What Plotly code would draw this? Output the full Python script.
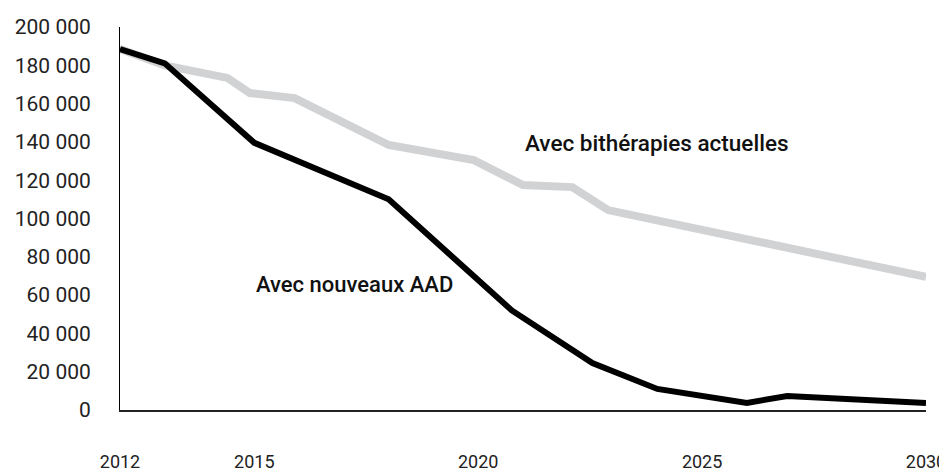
import plotly.graph_objects as go

# Data
years_aad = [2012, 2013, 2015, 2018, 2020.75, 2022.55, 2024, 2026, 2026.9, 2030]
patients_aad = [188500, 181000, 139500, 110000, 52000, 24500, 11000, 3700, 7300, 3700]

years_bi = [2012, 2013, 2014.4, 2014.9, 2015.9, 2018, 2019.9, 2021, 2022.1, 2022.9, 2030]
patients_bi = [188500, 180000, 173400, 165500, 162900, 138400, 130500, 117500, 116400, 104400, 69500]

x_ticks = [2012, 2015, 2020, 2025, 2030]
y_ticks = [0, 20000, 40000, 60000, 80000, 100000, 120000, 140000, 160000, 180000, 200000]
y_tick_labels = ["0", "20 000", "40 000", "60 000", "80 000", "100 000", "120 000",
                 "140 000", "160 000", "180 000", "200 000"]

label_bi = "Avec bithérapies actuelles"
label_aad = "Avec nouveaux AAD"

FONT = "Roboto, 'DejaVu Sans', sans-serif"

fig = go.Figure()
fig.add_trace(go.Scatter(x=years_bi, y=patients_bi, mode="lines",
                         line=dict(color="#d1d2d4", width=8), name=label_bi,
                         hoverinfo="skip"))
fig.add_trace(go.Scatter(x=years_aad, y=patients_aad, mode="lines",
                         line=dict(color="#000000", width=6), name=label_aad,
                         hoverinfo="skip"))

fig.add_annotation(x=2021.0, y=139500, text=label_bi, showarrow=False,
                   xanchor="left", yanchor="middle",
                   font=dict(family=FONT, size=22.5, color="#111111", weight=500))
fig.add_annotation(x=2015.0, y=65500, text=label_aad, showarrow=False,
                   xanchor="left", yanchor="middle",
                   font=dict(family=FONT, size=22, color="#111111", weight=500))

# the page adds an 8px body margin, so the figure is sized to fit inside it
fig.update_layout(
    width=939, height=467,
    margin=dict(l=112, r=21, t=19, b=65),
    plot_bgcolor="white", paper_bgcolor="white",
    showlegend=False,
    font=dict(family=FONT, size=20, color="#222222"),
)
fig.update_xaxes(range=[2012, 2030], tickvals=x_ticks, showgrid=False, zeroline=False,
                 showline=True, linecolor="#222222", linewidth=2,
                 ticks="", ticklabelstandoff=34, automargin=False,
                 ticklabeloverflow="allow",
                 tickfont=dict(family=FONT, size=18, color="#222222"))
fig.update_yaxes(range=[0, 200000], tickvals=y_ticks, ticktext=y_tick_labels,
                 showgrid=False, zeroline=False,
                 showline=True, linecolor="#000000", linewidth=1,
                 ticks="", ticklabelstandoff=24, automargin=False,
                 tickfont=dict(family=FONT, size=21, color="#222222"))

fig.write_html("out.html")
